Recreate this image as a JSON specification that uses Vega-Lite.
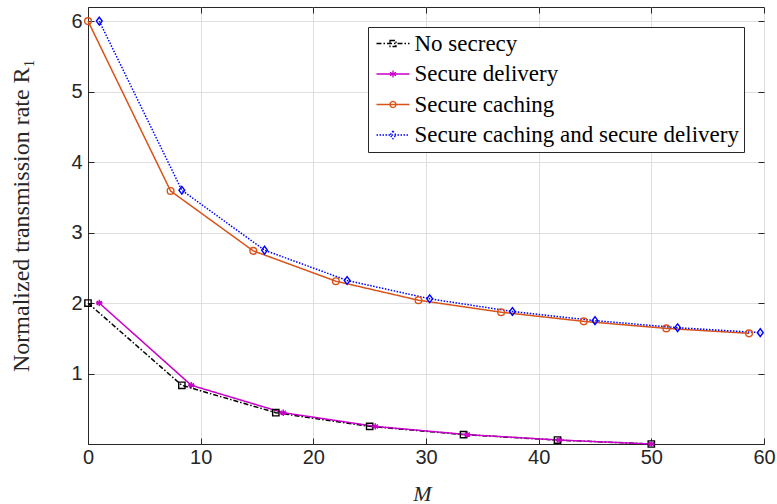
{
  "$schema": "https://vega.github.io/schema/vega-lite/v6.json",
  "width": 676,
  "height": 437,
  "autosize": {"type": "none"},
  "padding": {"left": 88, "top": 7, "right": 13, "bottom": 60},
  "background": "white",
  "config": {
    "view": {"stroke": "#262626", "strokeWidth": 1},
    "axis": {
      "labelFont": "Liberation Sans",
      "labelFontSize": 20,
      "labelColor": "#262626",
      "tickColor": "#262626",
      "domainColor": "#262626",
      "gridColor": "#dfdfdf",
      "gridWidth": 1,
      "tickSize": -6,
      "labelFlush": false,
      "titleFont": "Liberation Serif",
      "titleFontWeight": "normal",
      "titleColor": "#262626"
    }
  },
  "data": {
    "values": [
      {"series": "No secrecy", "M": 0, "R": 2},
      {"series": "No secrecy", "M": 8.33, "R": 0.833},
      {"series": "No secrecy", "M": 16.67, "R": 0.444},
      {"series": "No secrecy", "M": 25, "R": 0.25},
      {"series": "No secrecy", "M": 33.33, "R": 0.133},
      {"series": "No secrecy", "M": 41.67, "R": 0.056},
      {"series": "No secrecy", "M": 50, "R": 0},
      {"series": "Secure delivery", "M": 1, "R": 2},
      {"series": "Secure delivery", "M": 9.17, "R": 0.833},
      {"series": "Secure delivery", "M": 17.33, "R": 0.444},
      {"series": "Secure delivery", "M": 25.5, "R": 0.25},
      {"series": "Secure delivery", "M": 33.67, "R": 0.133},
      {"series": "Secure delivery", "M": 41.83, "R": 0.056},
      {"series": "Secure delivery", "M": 50, "R": 0},
      {"series": "Secure caching", "M": 0, "R": 6},
      {"series": "Secure caching", "M": 7.33, "R": 3.59},
      {"series": "Secure caching", "M": 14.67, "R": 2.74},
      {"series": "Secure caching", "M": 22, "R": 2.31},
      {"series": "Secure caching", "M": 29.33, "R": 2.04},
      {"series": "Secure caching", "M": 36.67, "R": 1.87},
      {"series": "Secure caching", "M": 44, "R": 1.74},
      {"series": "Secure caching", "M": 51.33, "R": 1.64},
      {"series": "Secure caching", "M": 58.67, "R": 1.57},
      {"series": "Secure caching and secure delivery", "M": 1, "R": 6},
      {"series": "Secure caching and secure delivery", "M": 8.33, "R": 3.6},
      {"series": "Secure caching and secure delivery", "M": 15.67, "R": 2.75},
      {"series": "Secure caching and secure delivery", "M": 23, "R": 2.32},
      {"series": "Secure caching and secure delivery", "M": 30.33, "R": 2.06},
      {"series": "Secure caching and secure delivery", "M": 37.67, "R": 1.88},
      {"series": "Secure caching and secure delivery", "M": 45, "R": 1.75},
      {"series": "Secure caching and secure delivery", "M": 52.33, "R": 1.65},
      {"series": "Secure caching and secure delivery", "M": 59.67, "R": 1.58}
    ]
  },
  "resolve": {"axis": {"x": "independent", "y": "independent"}},
  "layer": [
    {
      "mark": {"type": "line", "strokeWidth": 1.5},
      "encoding": {
        "x": {
          "field": "M", "type": "quantitative",
          "scale": {"domain": [0, 60], "nice": false, "zero": false},
          "axis": {
            "values": [0, 10, 20, 30, 40, 50, 60],
            "title": "M",
            "titleFontStyle": "italic",
            "titleFontSize": 22,
            "titleBaseline": "alphabetic",
            "titleX": 334,
            "titleY": 56,
            "labelPadding": 9
          }
        },
        "y": {
          "field": "R", "type": "quantitative",
          "scale": {"domain": [0, 6.2], "nice": false, "zero": false},
          "axis": {
            "values": [1, 2, 3, 4, 5, 6],
            "title": "Normalized transmission rate R₁",
            "titleFontSize": 24,
            "titleBaseline": "alphabetic",
            "titleX": -60,
            "titleY": 208,
            "labelPadding": 12
          }
        },
        "color": {
          "field": "series", "type": "nominal",
          "scale": {
            "domain": ["No secrecy", "Secure delivery", "Secure caching", "Secure caching and secure delivery"],
            "range": ["#000000", "#c800c8", "#d95319", "#0000ff"]
          },
          "legend": {
            "title": null,
            "orient": "none",
            "legendX": 280,
            "legendY": 20,
            "fillColor": "white",
            "strokeColor": "#262626",
            "padding": 5,
            "symbolSize": 400,
            "symbolOffset": 8.5,
            "symbolStrokeWidth": 1.3,
            "labelOffset": 10,
            "labelFont": "Liberation Serif",
            "labelFontSize": 23,
            "labelColor": "#000000",
            "labelLimit": 0,
            "rowPadding": 6.5,
            "encode": {
              "symbols": {
                "update": {
                  "shape": {"signal": "datum.value === 'No secrecy' ? 'M-1.65,0H1.65M-0.3,-0.3H0.3V0.3H-0.3Z' : datum.value === 'Secure delivery' ? 'M-1.65,0H1.65M0,-0.35V0.35M-0.3,-0.18L0.3,0.18M-0.3,0.18L0.3,-0.18' : datum.value === 'Secure caching' ? 'M-1.65,0H1.65M0.3,0A0.3,0.3 0 1 1 -0.3,0A0.3,0.3 0 1 1 0.3,0Z' : 'M-1.65,0H1.65M0,-0.38L0.3,0L0,0.38L-0.3,0Z'"},
                  "fill": {"value": "transparent"}
                }
              }
            }
          }
        },
        "strokeDash": {
          "field": "series", "type": "nominal",
          "scale": {
            "domain": ["No secrecy", "Secure delivery", "Secure caching", "Secure caching and secure delivery"],
            "range": [[5, 2, 1.5, 2], [1, 0], [1, 0], [1.5, 1.5]]
          }
        }
      }
    },
    {
      "transform": [{"filter": "datum.series === 'No secrecy'"}],
      "mark": {"type": "point", "filled": false, "strokeWidth": 1.4, "size": 40, "opacity": 1, "shape": "square", "color": "#000000"},
      "encoding": {
        "x": {
          "field": "M", "type": "quantitative",
          "axis": {"orient": "top", "labels": false, "grid": false, "title": null, "domain": false, "values": [0, 10, 20, 30, 40, 50, 60]}
        },
        "y": {
          "field": "R", "type": "quantitative",
          "axis": {"orient": "right", "labels": false, "grid": false, "title": null, "domain": false, "values": [1, 2, 3, 4, 5, 6]}
        }
      }
    },
    {
      "transform": [{"filter": "datum.series === 'Secure delivery'"}],
      "mark": {"type": "point", "filled": false, "strokeWidth": 1.4, "size": 42, "opacity": 1, "shape": "M0,-1V1M-1,0H1M-0.8,-0.6L0.8,0.6M-0.8,0.6L0.8,-0.6", "color": "#c800c8"},
      "encoding": {
        "x": {"field": "M", "type": "quantitative", "axis": null},
        "y": {"field": "R", "type": "quantitative", "axis": null}
      }
    },
    {
      "transform": [{"filter": "datum.series === 'Secure caching'"}],
      "mark": {"type": "point", "filled": false, "strokeWidth": 1.4, "size": 45, "opacity": 1, "shape": "circle", "color": "#d95319"},
      "encoding": {
        "x": {"field": "M", "type": "quantitative", "axis": null},
        "y": {"field": "R", "type": "quantitative", "axis": null}
      }
    },
    {
      "transform": [{"filter": "datum.series === 'Secure caching and secure delivery'"}],
      "mark": {"type": "point", "filled": false, "strokeWidth": 1.4, "size": 42, "opacity": 1, "shape": "M0,-1.2L0.9,0L0,1.2L-0.9,0Z", "color": "#0000ff"},
      "encoding": {
        "x": {"field": "M", "type": "quantitative", "axis": null},
        "y": {"field": "R", "type": "quantitative", "axis": null}
      }
    }
  ]
}
